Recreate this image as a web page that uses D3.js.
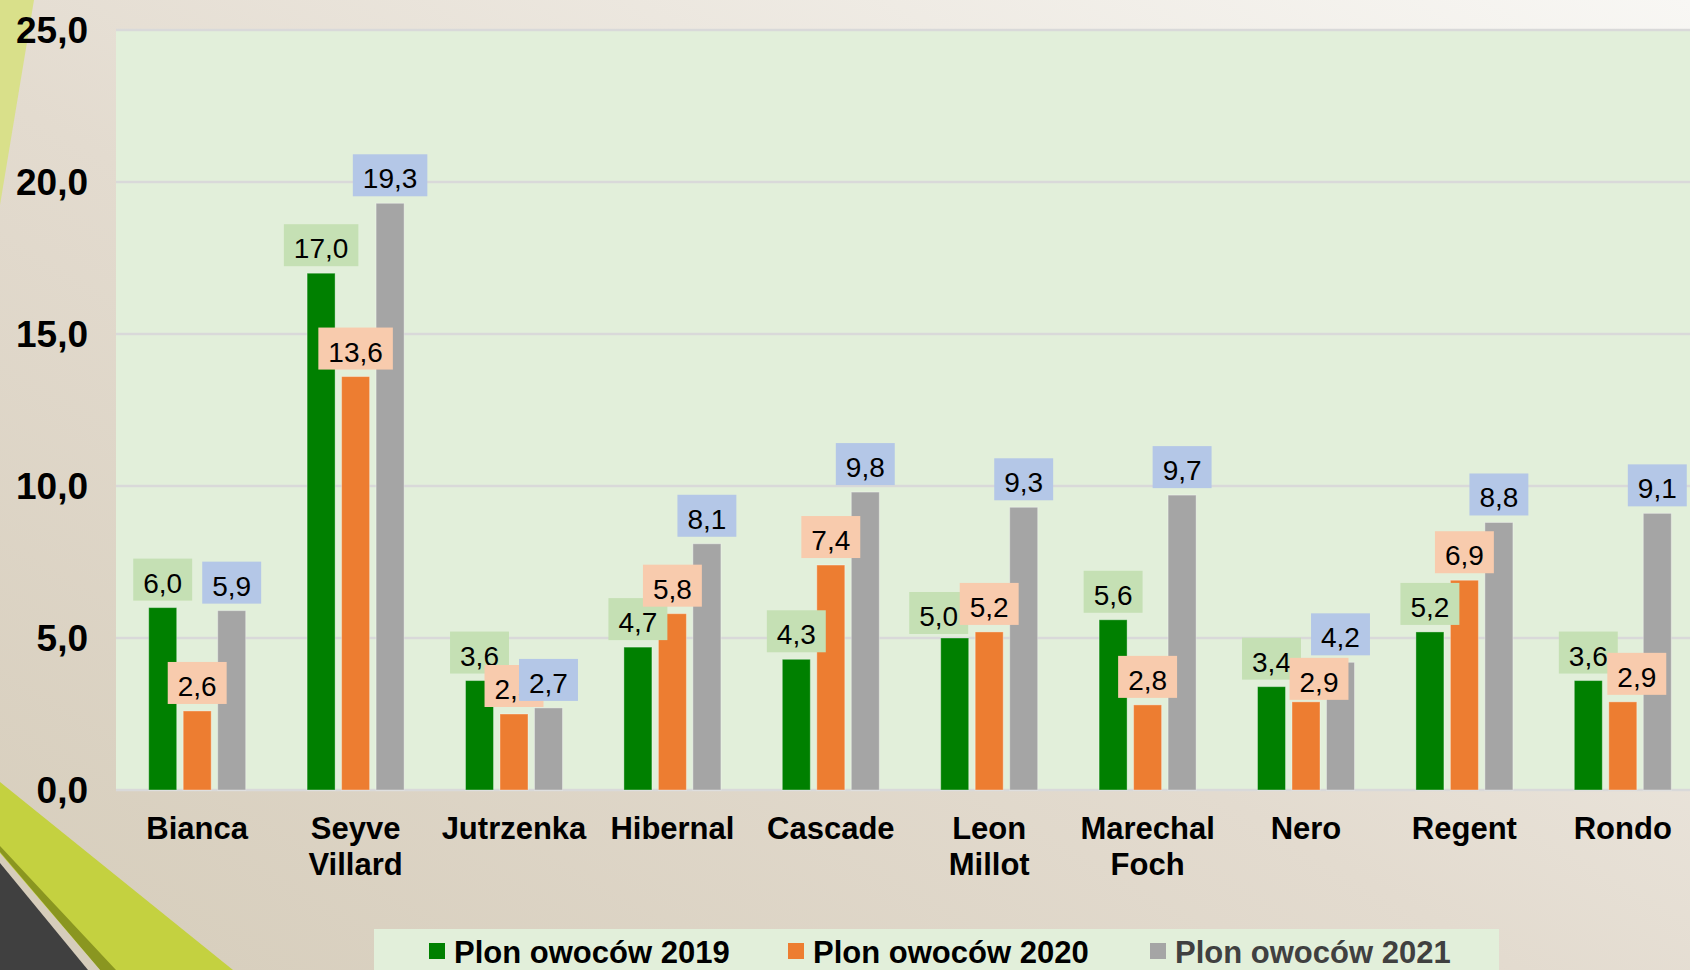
<!DOCTYPE html>
<html>
<head>
<meta charset="utf-8">
<script src="https://cdn.jsdelivr.net/npm/d3@7"></script>
<style>
  body { margin: 0; overflow: hidden; }
  text { font-family: "Liberation Sans", Arial, sans-serif; }
</style>
</head>
<body>
<div id="chart"></div>
<script>
////////////////////////////////////////////////////////////////////////
// Data

let categories = ["Bianca", "Seyve Villard", "Jutrzenka", "Hibernal", "Cascade",
  "Leon Millot", "Marechal Foch", "Nero", "Regent", "Rondo"];

let seriesNames = ["Plon owoców 2019", "Plon owoców 2020", "Plon owoców 2021"];

let values2019 = [6.0, 17.0, 3.6, 4.7, 4.3, 5.0, 5.6, 3.4, 5.2, 3.6];
let values2020 = [2.6, 13.6, 2.5, 5.8, 7.4, 5.2, 2.8, 2.9, 6.9, 2.9];
let values2021 = [5.9, 19.3, 2.7, 8.1, 9.8, 9.3, 9.7, 4.2, 8.8, 9.1];

let yTicks = [0, 5, 10, 15, 20, 25];

////////////////////////////////////////////////////////////////////////
// Look

let width = 1690;
let height = 970;

let barColors = ["#008000", "#ed7d31", "#a5a5a5"];
let labelColors = ["#c5e0b4", "#f8cbad", "#b4c7e7"];
let legendTextColors = ["#000", "#000", "#404040"];

// a few labels were dragged by hand in the original
let labelNudge = {
  "0|Leon Millot": [-16, 3],
  "1|Nero": [13, 5],
  "1|Rondo": [14, 0]
};

let pl = d3.formatLocale({ decimal: ",", thousands: " ", grouping: [3], currency: ["", " zł"] });
let fmt = pl.format(".1f");

let svg = d3.select("#chart")
  .append("svg")
  .attr("width", width).attr("height", height);

////////////////////////////////////////////////////////////////////////
// Background and corner decorations

let defs = svg.append("defs");
let grad = defs.append("linearGradient")
  .attr("id", "bg").attr("x1", "1").attr("y1", "0").attr("x2", "0").attr("y2", "1");
grad.append("stop").attr("offset", "0%").attr("stop-color", "#f8f7f4");
grad.append("stop").attr("offset", "55%").attr("stop-color", "#e3dbcf");
grad.append("stop").attr("offset", "100%").attr("stop-color", "#d6cdbb");

svg.append("rect").attr("width", width).attr("height", height).attr("fill", "url(#bg)");

svg.append("polygon").attr("points", "0,0 34,0 0,205").attr("fill", "#d9e08a");
svg.append("polygon").attr("points", "0,782 233,970 0,970").attr("fill", "#c4d140");
svg.append("polygon").attr("points", "0,846 116,970 100,970 0,852").attr("fill", "#8a9620");
svg.append("polygon").attr("points", "0,853 100,970 0,970").attr("fill", "#d6cdbb");
svg.append("polygon").attr("points", "0,863 88,970 0,970").attr("fill", "#404040");

////////////////////////////////////////////////////////////////////////
// Scales

let xScale = d3.scaleBand()
  .domain(categories)
  .range([118, 1702]);

let xInner = d3.scaleBand()
  .domain([0, 1, 2])
  .range([-48.5, 48.5])
  .paddingInner(0.188);

let yScale = d3.scaleLinear()
  .domain([0, 25])
  .range([790, 30]);

// plot area
svg.append("rect")
  .attr("x", 116).attr("y", yScale(25) - 1)
  .attr("width", width - 116).attr("height", yScale(0) - yScale(25) + 1)
  .attr("fill", "#e2efda");

// gridlines
svg.append("g")
  .selectAll("line")
  .data(yTicks)
  .enter()
  .append("line")
  .attr("x1", 116).attr("x2", width)
  .attr("y1", d => yScale(d)).attr("y2", d => yScale(d))
  .attr("stroke", "#d9d9d9")
  .attr("stroke-width", 2.5);

// y axis tick labels
let yAxis = d3.axisLeft(yScale)
  .tickValues(yTicks)
  .tickFormat(fmt)
  .tickSize(0)
  .tickPadding(0);

let yAxisG = svg.append("g")
  .attr("transform", "translate(88,0)")
  .call(yAxis);
yAxisG.select(".domain").remove();
yAxisG.selectAll("text")
  .attr("font-family", "'Liberation Sans', Arial, sans-serif")
  .attr("font-size", 37)
  .attr("font-weight", "bold")
  .attr("fill", "#000")
  .attr("dy", "0.35em");

////////////////////////////////////////////////////////////////////////
// Bars

let allSeries = [values2019, values2020, values2021];
let barData = [];
allSeries.forEach(function(vals, s) {
  vals.forEach(function(v, i) {
    barData.push({ s: s, cat: categories[i], value: v });
  });
});

function barX(d) { return xScale(d.cat) + xScale.bandwidth() / 2 + xInner(d.s); }

svg.append("g")
  .selectAll(".bar")
  .data(barData)
  .enter()
  .append("rect")
  .attr("class", "bar")
  .attr("x", barX)
  .attr("y", d => yScale(d.value))
  .attr("width", xInner.bandwidth())
  .attr("height", d => yScale(0) - yScale(d.value))
  .attr("fill", d => barColors[d.s])
  .attr("stroke", "rgba(255,255,255,0.35)")
  .attr("stroke-width", 1);

////////////////////////////////////////////////////////////////////////
// Data labels (boxes sized from the text)

let labelG = svg.append("g");
barData.forEach(function(d) {
  let nudge = labelNudge[d.s + "|" + d.cat] || [0, 0];
  let cx = barX(d) + xInner.bandwidth() / 2 + nudge[0];
  let bottom = yScale(d.value) - 7 + nudge[1];
  let g = labelG.append("g");
  let box = g.append("rect");
  let t = g.append("text")
    .attr("x", cx)
    .attr("y", bottom - 8)
    .attr("text-anchor", "middle")
    .attr("font-size", 28)
    .attr("fill", "#000")
    .text(fmt(d.value));
  let w = t.node().getComputedTextLength() + 20;
  box.attr("x", cx - w / 2).attr("y", bottom - 42)
    .attr("width", w).attr("height", 42)
    .attr("fill", labelColors[d.s]);
});

////////////////////////////////////////////////////////////////////////
// Category labels

svg.append("g")
  .selectAll(".cat")
  .data(categories)
  .enter()
  .append("text")
  .attr("class", "cat")
  .attr("text-anchor", "middle")
  .attr("font-size", 31)
  .attr("font-weight", "bold")
  .attr("fill", "#000")
  .each(function(d) {
    let cx = xScale(d) + xScale.bandwidth() / 2;
    d3.select(this).selectAll("tspan")
      .data(d.split(" "))
      .enter()
      .append("tspan")
      .attr("x", cx)
      .attr("y", (w, i) => 839 + i * 36)
      .text(w => w);
  });

////////////////////////////////////////////////////////////////////////
// Legend

svg.append("rect")
  .attr("x", 374).attr("y", 929)
  .attr("width", 1125).attr("height", 60)
  .attr("fill", "#e2efda");

let legendX = [429, 788, 1150];
let legend = svg.append("g")
  .selectAll(".legend")
  .data(seriesNames)
  .enter()
  .append("g")
  .attr("class", "legend")
  .attr("transform", (d, i) => "translate(" + legendX[i] + ",943)");

legend.append("rect")
  .attr("width", 16).attr("height", 16)
  .attr("fill", (d, i) => barColors[i]);

legend.append("text")
  .attr("x", 25).attr("y", 20)
  .attr("font-size", 31)
  .attr("font-weight", "bold")
  .attr("fill", (d, i) => legendTextColors[i])
  .text(d => d);
</script>
</body>
</html>
